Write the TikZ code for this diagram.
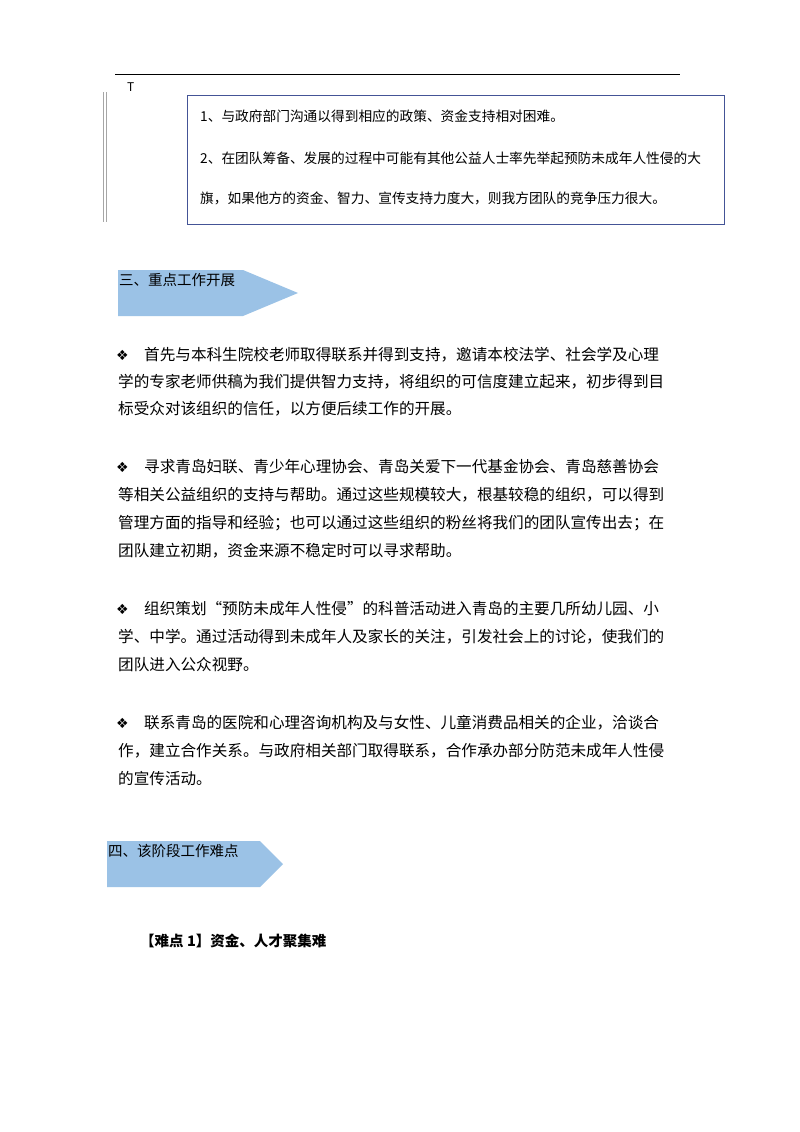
\documentclass[tikz,border=0pt]{standalone}
\usepackage{fontspec}
\setmainfont{Noto Sans CJK SC}
\newfontfamily\dejavu{DejaVu Sans}
\begin{document}
\begin{tikzpicture}[x=1pt,y=-1pt,
  body/.style={anchor=west,inner sep=0pt,font=\fontsize{15.6}{18}\selectfont},
  boxt/.style={anchor=west,inner sep=0pt,font=\fontsize{13.7}{16}\selectfont},
  bul/.style={anchor=west,inner sep=0pt,font=\dejavu\fontsize{14}{16}\selectfont}]
\useasboundingbox (0,0) rectangle (800,1132);
\fill[white] (0,0) rectangle (800,1132);
\draw[line width=1pt] (115,74) -- (680,74);
\node[anchor=west,inner sep=0pt,font=\fontsize{12}{14}\selectfont] (T) at (127,87) {T};
\draw[gray!70,line width=0.6pt] (103,92) -- (103,222) (106,92) -- (106,222);
\draw[draw={rgb,255:red,68;green,84;blue,150},line width=0.9pt] (187,95) rectangle (724,224);
\node[boxt] (b1) at (200,116) {1、与政府部门沟通以得到相应的政策、资金支持相对困难。};
\node[boxt] (b2) at (200,158) {2、在团队筹备、发展的过程中可能有其他公益人士率先举起预防未成年人性侵的大};
\node[boxt] (b3) at (200,198) {旗，如果他方的资金、智力、宣传支持力度大，则我方团队的竞争压力很大。};
\fill[fill={rgb,255:red,155;green,194;blue,230}] (118,270) -- (243,270) -- (298,293) -- (243,316) -- (118,316) -- cycle;
\node[body,font=\fontsize{14.5}{17}\selectfont] (h3) at (119,280) {三、重点工作开展};
\fill[fill={rgb,255:red,155;green,194;blue,230}] (107,841) -- (260,841) -- (283,864) -- (260,887) -- (107,887) -- cycle;
\node[body,font=\fontsize{14.5}{17}\selectfont] (h4) at (108,851) {四、该阶段工作难点};
% para 1
\node[bul] at (116,355) {❖};
\node[body] at (144,355) {首先与本科生院校老师取得联系并得到支持，邀请本校法学、社会学及心理};
\node[body] at (118,382) {学的专家老师供稿为我们提供智力支持，将组织的可信度建立起来，初步得到目};
\node[body] at (118,409) {标受众对该组织的信任，以方便后续工作的开展。};
% para 2
\node[bul] at (116,467) {❖};
\node[body] at (144,467) {寻求青岛妇联、青少年心理协会、青岛关爱下一代基金协会、青岛慈善协会};
\node[body] at (118,495) {等相关公益组织的支持与帮助。通过这些规模较大，根基较稳的组织，可以得到};
\node[body] at (118,523) {管理方面的指导和经验；也可以通过这些组织的粉丝将我们的团队宣传出去；在};
\node[body] at (118,551) {团队建立初期，资金来源不稳定时可以寻求帮助。};
% para 3
\node[bul] at (116,609) {❖};
\node[body] at (144,609) {组织策划“预防未成年人性侵”的科普活动进入青岛的主要几所幼儿园、小};
\node[body] at (118,637) {学、中学。通过活动得到未成年人及家长的关注，引发社会上的讨论，使我们的};
\node[body] at (118,665) {团队进入公众视野。};
% para 4
\node[bul] at (116,723) {❖};
\node[body] at (144,723) {联系青岛的医院和心理咨询机构及与女性、儿童消费品相关的企业，洽谈合};
\node[body] at (118,751) {作，建立合作关系。与政府相关部门取得联系，合作承办部分防范未成年人性侵};
\node[body] at (118,779) {的宣传活动。};
\node[body,font=\bfseries\fontsize{14.5}{17}\selectfont] (d1) at (140,941) {【难点 1】资金、人才聚集难};
\end{tikzpicture}
\end{document}
